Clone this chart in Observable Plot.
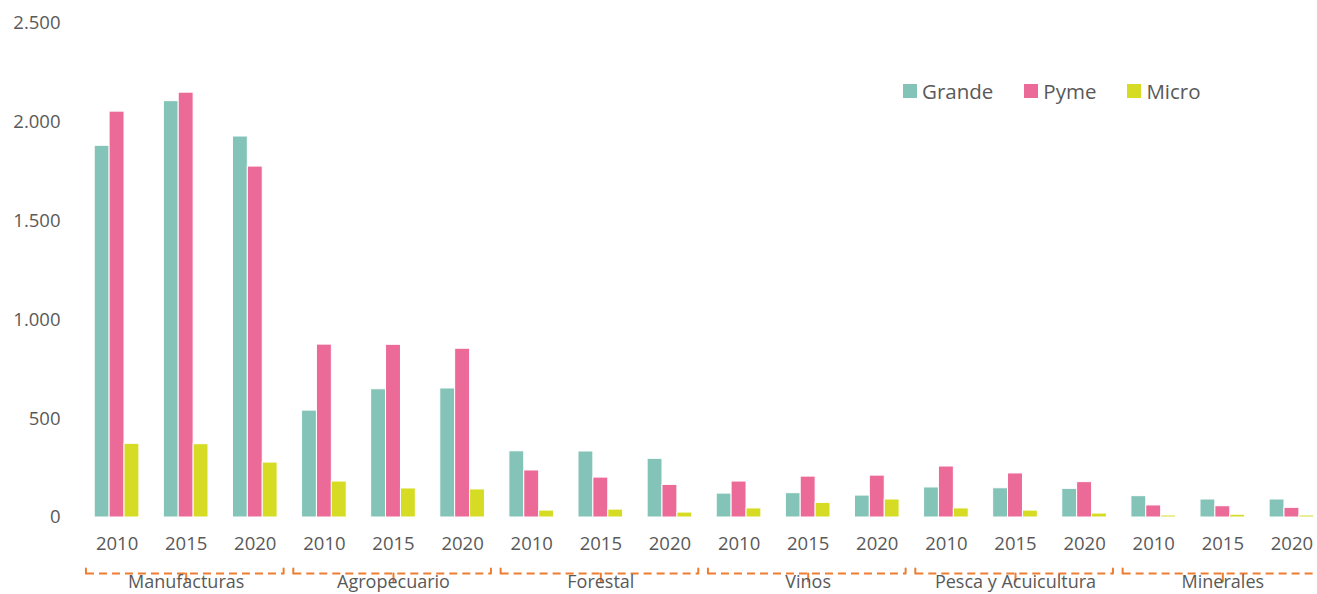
<!DOCTYPE html>
<html><head><meta charset="utf-8">
<script src="https://cdn.jsdelivr.net/npm/d3@7"></script>
<script src="https://cdn.jsdelivr.net/npm/@observablehq/plot@0.6"></script>
<style>
body{margin:0;background:#fff;overflow:hidden;}
#wrap{position:relative;width:1317px;height:594px;overflow:hidden;}
#legend{position:absolute;left:903px;top:74px;}
.lg-swatches{font-family:'Open Sans',sans-serif !important;font-size:20.5px !important;color:#595959 !important;margin:0 !important;}
.lg-swatch{margin-right:31px !important;}
.lg-swatch>svg{margin-right:5px !important;}
</style></head><body><div id="wrap"><div id="legend"></div></div>
<script>
const categories = ["Manufacturas","Agropecuario","Forestal","Vinos","Pesca y Acuicultura","Minerales"];
const years = ["2010","2015","2020"];
const series = ["Grande","Pyme","Micro"];
const grande = [1881, 2107, 1928, 541, 649, 653, 335, 334, 297, 121, 123, 111, 152, 148, 145, 108, 91, 91];
const pyme   = [2054, 2150, 1776, 875, 874, 854, 238, 202, 165, 182, 207, 212, 258, 223, 179, 61, 57, 49];
const micro  = [373, 371, 278, 182, 147, 142, 35, 40, 25, 46, 74, 91, 46, 35, 20, 10, 14, 10];
const yTicks = [0, 500, 1000, 1500, 2000, 2500];
const colors = ["#83C3B8", "#EC6A97", "#D6DB24"];
const orange = "#ED7D31";

const values = {Grande: grande, Pyme: pyme, Micro: micro};
const offsets = {Grande: [-0.323, -0.108], Pyme: [-0.108, 0.108], Micro: [0.108, 0.323]};
const rows = [];
categories.forEach((c, ci) => years.forEach((yr, yi) => {
  const i = ci * 3 + yi;
  series.forEach(s => rows.push({i, cat: c, year: yr, series: s, value: values[s][i]}));
}));
const groups = categories.map((c, ci) => ({cat: c, first: ci * 3, mid: ci * 3 + 1, last: ci * 3 + 2}));
const fmt = d3.formatLocale({decimal: ",", thousands: ".", grouping: [3], currency: ["", ""]}).format(",");
const upTick = {draw(ctx, l) { ctx.moveTo(0, 0); ctx.lineTo(0, -l); }};

const plot = Plot.plot({
  width: 1317, height: 594, marginTop: 23, marginBottom: 77, marginLeft: 82, marginRight: 0,
  style: {fontFamily: "'Open Sans', sans-serif", fontSize: "18.5px", color: "#595959", background: "white", overflow: "visible"},
  x: {domain: [-0.5, 17.5], range: [82, 1326], ticks: d3.range(18), tickFormat: i => years[i % 3], tickSize: 0, tickPadding: 19, label: null},
  y: {domain: [0, 2500], ticks: yTicks, tickFormat: fmt, tickSize: 0, tickPadding: 22, label: null},
  color: {domain: series, range: colors},
  marks: [
    Plot.rectY(rows, {x1: d => d.i + offsets[d.series][0], x2: d => d.i + offsets[d.series][1], y: "value", fill: "series", stroke: "white", strokeWidth: 1}),
    Plot.link(groups, {x1: d => d.first - 0.45, x2: d => d.last + 0.41, y1: 0, y2: 0, dy: 56, stroke: orange, strokeWidth: 2, strokeDasharray: "8,5"}),
    Plot.vector(groups, {x: d => d.first - 0.45, y: 0, dy: 56, length: 5, anchor: "start", shape: upTick, stroke: orange, strokeWidth: 2}),
    Plot.vector(groups, {x: d => d.last + 0.41, y: 0, dy: 56, length: 5, anchor: "start", shape: upTick, stroke: orange, strokeWidth: 2}),
    Plot.vector(groups, {x: "mid", y: 0, dy: 56, length: 8, rotate: 180, anchor: "start", shape: upTick, stroke: orange, strokeWidth: 2}),
    Plot.text(groups, {x: "mid", y: 0, dy: 65, text: "cat", fill: "#595959", fontSize: 18})
  ]
});
document.getElementById("wrap").prepend(plot);
const legend = Plot.legend({color: {domain: series, range: colors}, legend: "swatches", swatchSize: 14, className: "lg"});
document.getElementById("legend").appendChild(legend);
</script>
</body></html>
